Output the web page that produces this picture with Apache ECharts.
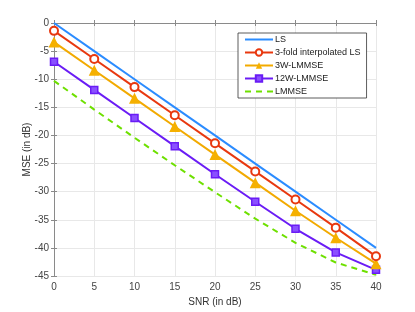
<!DOCTYPE html>
<html><head><meta charset="utf-8">
<script src="https://cdn.jsdelivr.net/npm/echarts@6/dist/echarts.min.js"></script>
<style>html,body{margin:0;padding:0;background:#fff}#c{width:415px;height:312px}</style>
</head><body><div id="c"></div>
<script>
const snr = [0, 5, 10, 15, 20, 25, 30, 35, 40];
const ls = [0, -5, -10, -15, -20, -25, -30, -35, -40];
const threeFold = [-1.4, -6.4, -11.4, -16.4, -21.4, -26.4, -31.4, -36.4, -41.5];
const w3 = [-3.4, -8.4, -13.4, -18.4, -23.4, -28.4, -33.4, -38.2, -42.8];
const w12 = [-6.9, -11.9, -16.9, -21.9, -26.9, -31.8, -36.6, -40.8, -43.9];
const lmmse = [-10.3, -15.4, -20.4, -25.3, -30.1, -34.8, -39.1, -42.6, -44.8];
const names = ['LS', '3-fold interpolated LS', '3W-LMMSE', '12W-LMMSE', 'LMMSE'];

const pair = arr => snr.map((x, i) => [x, arr[i]]);
const font = 'Liberation Sans, Arial, sans-serif';
const axisCol = '#8a8a8a';
const gridCol = '#e8e8e8';

const chart = echarts.init(document.getElementById('c'), null, {renderer: 'canvas'});
chart.setOption({
  animation: false,
  backgroundColor: '#fff',
  grid: {left: 54, right: 39, top: 23, bottom: 34, containLabel: false},
  legend: {
    left: 238, top: 33, orient: 'vertical',
    itemWidth: 28, itemHeight: 8, itemGap: 4,
    padding: [2, 6, 2, 6],
    backgroundColor: '#fff', borderColor: '#333', borderWidth: 0.8, borderRadius: 0,
    textStyle: {fontFamily: font, fontSize: 9, color: '#222', padding: [0, 0, 0, -3]},
    data: [
      {name: names[0], itemStyle: {opacity: 0}},
      names[1], names[2], names[3],
      {name: names[4], itemStyle: {opacity: 0}}
    ]
  },
  xAxis: [{
    type: 'value', min: 0, max: 40, interval: 5,
    name: 'SNR (in dB)', nameLocation: 'middle', nameGap: 21, nameMoveOverlap: false,
    nameTextStyle: {fontFamily: font, fontSize: 10, color: '#333'},
    axisLine: {lineStyle: {color: axisCol, width: 1}},
    axisTick: {inside: true, length: 3, lineStyle: {color: axisCol}},
    axisLabel: {fontFamily: font, fontSize: 10, color: '#444', margin: 6},
    splitLine: {show: true, lineStyle: {color: gridCol, width: 1}}
  }, {
    type: 'value', min: 0, max: 40, interval: 5, position: 'top',
    axisLine: {show: true, lineStyle: {color: axisCol, width: 1}},
    axisTick: {inside: true, length: 3, lineStyle: {color: axisCol}},
    axisLabel: {show: false}, splitLine: {show: false}
  }],
  yAxis: [{
    type: 'value', min: -45, max: 0, interval: 5,
    name: 'MSE (in dB)', nameLocation: 'middle', nameGap: 22, nameMoveOverlap: false,
    nameTextStyle: {fontFamily: font, fontSize: 10, color: '#333'},
    axisLine: {show: true, lineStyle: {color: axisCol, width: 1}},
    axisTick: {show: true, inside: true, length: 3, lineStyle: {color: axisCol}},
    axisLabel: {fontFamily: font, fontSize: 10, color: '#444', margin: 5},
    splitLine: {show: true, lineStyle: {color: gridCol, width: 1}}
  }, {
    type: 'value', min: -45, max: 0, interval: 5, position: 'right',
    axisLine: {show: true, lineStyle: {color: axisCol, width: 1}},
    axisTick: {show: true, inside: true, length: 3, lineStyle: {color: axisCol}},
    axisLabel: {show: false}, splitLine: {show: false}
  }],
  series: [
    {name: names[0], type: 'line', data: pair(ls), showSymbol: false, symbol: 'none',
     lineStyle: {color: '#2b8cff', width: 2}, itemStyle: {color: '#2b8cff'}, z: 5},
    {name: names[1], type: 'line', data: pair(threeFold), symbol: 'emptyCircle', symbolSize: 8,
     lineStyle: {color: '#e8380f', width: 2}, itemStyle: {color: '#e8380f', borderColor: '#e8380f', borderWidth: 2}, z: 4},
    {name: names[2], type: 'line', data: pair(w3), symbol: 'triangle', symbolSize: 11,
     lineStyle: {color: '#f2aa00', width: 2}, itemStyle: {color: '#f5b000'}, z: 3},
    {name: names[3], type: 'line', data: pair(w12), symbol: 'rect', symbolSize: 7,
     lineStyle: {color: '#6a1cf5', width: 2}, itemStyle: {color: '#8a50ff', borderColor: '#6a1cf5', borderWidth: 1.5}, z: 2},
    {name: names[4], type: 'line', data: pair(lmmse), symbol: 'none',
     lineStyle: {color: '#6ee000', width: 2, type: [6, 5]}, itemStyle: {color: '#6ee000'}, z: 1}
  ]
});
</script></body></html>
